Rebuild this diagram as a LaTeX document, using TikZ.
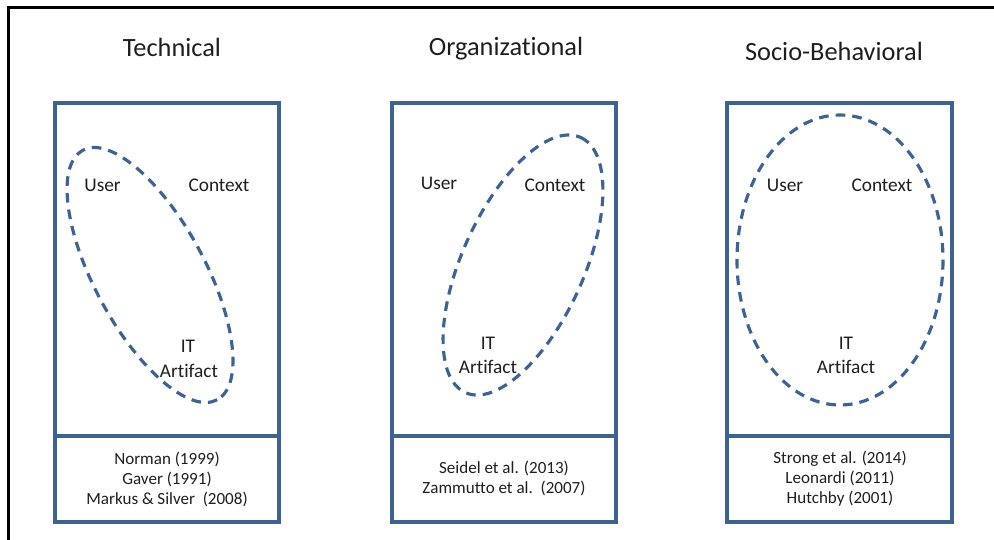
\documentclass[tikz,border=0pt]{standalone}
\usepackage{fontspec}
\setmainfont{Carlito}[Ligatures={NoCommon}]
\definecolor{boxblue}{RGB}{62,98,148}
\definecolor{txtgray}{RGB}{30,30,30}

\begin{document}
\begin{tikzpicture}[x=0.02cm,y=-0.02cm,
    box/.style={draw=boxblue,line width=2pt},
    venn/.style={draw=boxblue,line width=1.8pt,dash pattern=on 5.5pt off 4pt},
    title/.style={font=\fontsize{15}{18}\selectfont,text=txtgray},
    lbl/.style={font=\fontsize{11}{13}\selectfont,text=txtgray},
    refs/.style={font=\fontsize{9.7}{11.4}\selectfont,text=txtgray,align=center}]
          \useasboundingbox (0,0) rectangle (994,540);
          % frame
          \draw[line width=1.8pt] (8.5,560) -- (8.5,7.5) -- (1010,7.5);
          % titles
          \node[title] (ttech) at (172,47) {Technical};
          \node[title] (torg) at (506,49) {Organizational};
          \node[title] (tsoc) at (834,51) {Socio-Behavioral};
          % panels
          \draw[box] (55,103) rectangle (279,436) (55,436) rectangle (279,522);
          \draw[box] (392,103) rectangle (616,436) (392,436) rectangle (616,522);
          \draw[box] (727,103) rectangle (952,436) (727,436) rectangle (952,522);
          % ellipses
          \coordinate (c1) at (150,275);
          \coordinate (c2) at (523,265);
          \coordinate (c3) at (840,260);
          \draw[venn,rotate around={-61.7:(c1)}] (c1) ellipse [x radius=141.7,y radius=55.3];
          \draw[venn,rotate around={65.7:(c2)}] (c2) ellipse [x radius=140,y radius=60.8];
          \draw[venn] (c3) ellipse [x radius=103,y radius=145];
          % labels
          \node[lbl] (u1) at (102.5,185) {User};
          \node[lbl] (x1) at (219,185) {Context};
          \node[lbl] (i1) at (188,346) {IT};
          \node[lbl] (a1) at (189,371) {Artifact};
          \node[lbl] (u2) at (439,183) {User};
          \node[lbl] (x2) at (555,185) {Context};
          \node[lbl] (i2) at (488,343) {IT};
          \node[lbl] (a2) at (488,367) {Artifact};
          \node[lbl] (u3) at (785,185) {User};
          \node[lbl] (x3) at (882,185) {Context};
          \node[lbl] (i3) at (846,343) {IT};
          \node[lbl] (a3) at (846,367) {Artifact};
          % references
          \node[refs] (r1) at (167,479) {Norman (1999)\\Gaver (1991)\\Markus \& Silver\ \ (2008)};
          \node[refs] (r2) at (504,478.5) {Seidel et al. (2013)\\Zammutto et al.\ \ (2007)};
          \node[refs] (r3) at (840,479) {Strong et al. (2014)\\Leonardi (2011)\\Hutchby (2001)};
        \end{tikzpicture}
\end{document}
